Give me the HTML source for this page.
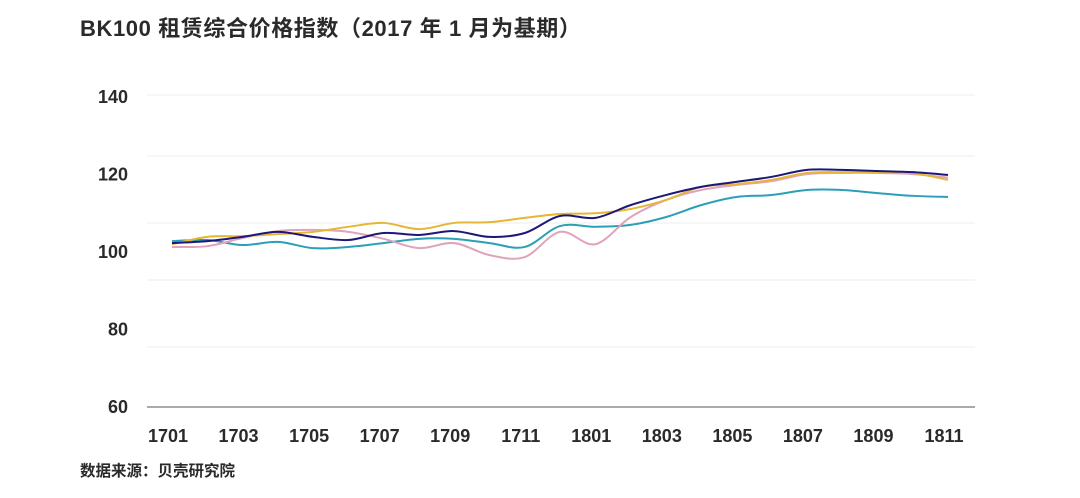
<!DOCTYPE html>
<html><head><meta charset="utf-8"><style>
html,body{margin:0;padding:0;background:#fff;}
svg{display:block;}
text{font-family:"Liberation Sans","Noto Sans CJK SC",sans-serif;font-weight:bold;fill:#2a2a2a;}
</style></head><body>
<svg id="chart" width="1080" height="498" viewBox="0 0 1080 498">
<text x="80" y="36" font-size="22" letter-spacing="0.6">BK100 租赁综合价格指数（2017 年 1 月为基期）</text>
<text x="80" y="476" font-size="15.5">数据来源：贝壳研究院</text>
<g id="grid"></g><g id="axes"></g><g id="series"></g>
</svg>
<script>
const months=["1701","1702","1703","1704","1705","1706","1707","1708","1709","1710","1711","1712","1801","1802","1803","1804","1805","1806","1807","1808","1809","1810","1811"];
const xTickLabels=["1701","1703","1705","1707","1709","1711","1801","1803","1805","1807","1809","1811"];
const yTickLabels=[60,80,100,120,140];
const navyValues=[102.3,102.8,103.9,105.2,103.9,103.1,104.9,104.4,105.4,103.9,104.9,109.3,108.8,112.1,114.7,116.8,118.1,119.4,121.2,121.2,120.9,120.6,119.9];
const yellowValues=[102,103.9,104.1,104.6,105.2,106.5,107.5,105.9,107.5,107.7,108.8,109.8,110,111.1,113.4,116.8,117.5,118.6,120.4,120.6,120.6,120.4,118.6];
const tealValues=[102.8,103.1,101.8,102.6,101,101.3,102.3,103.4,103.4,102.3,101.3,106.7,106.5,107,109,112.1,114.2,114.7,116,116,115.2,114.5,114.2];
const pinkValues=[101.3,101.5,103.6,105.4,105.7,105.2,103.4,101,102.3,99.2,98.7,105.2,102,109,113.4,116,117.3,118.3,120.1,120.4,120.4,120.1,119.2];
const NS="http://www.w3.org/2000/svg";
const x=i=>172+i*(948-172)/(months.length-1);
const y=v=>407-(v-60)*77.5/20;
function mk(tag,attrs,parent){const e=document.createElementNS(NS,tag);for(const k in attrs)e.setAttribute(k,attrs[k]);parent.appendChild(e);return e;}
const grid=document.getElementById('grid'),axes=document.getElementById('axes'),ser=document.getElementById('series');
[95,156,223,280,347].forEach(gy=>{const l=mk('line',{x1:147,x2:975,y1:gy,y2:gy,stroke:'#ececec','stroke-width':1},grid);

});
const ax=mk('line',{x1:147,x2:975,y1:407,y2:407,stroke:'#777','stroke-width':1.3},axes);


yTickLabels.forEach(v=>{const t=mk('text',{x:128,y:y(v)+6,'font-size':18,'text-anchor':'end'},axes);t.textContent=v;

});
xTickLabels.forEach(lab=>{const i=months.indexOf(lab);const t=mk('text',{x:x(i)-4,y:442,'font-size':18,'text-anchor':'middle'},axes);t.textContent=lab;

});
function smooth(vals){const p=vals.map((v,i)=>[x(i),y(v)]);let d=`M${p[0][0]},${p[0][1]}`;
for(let i=0;i<p.length-1;i++){const p0=p[i-1]||p[i],p1=p[i],p2=p[i+1],p3=p[i+2]||p2;
const c1=[p1[0]+(p2[0]-p0[0])/6,p1[1]+(p2[1]-p0[1])/6],c2=[p2[0]-(p3[0]-p1[0])/6,p2[1]-(p3[1]-p1[1])/6];
d+=` C${c1[0]},${c1[1]} ${c2[0]},${c2[1]} ${p2[0]},${p2[1]}`;}return d;}
[[tealValues,'#2c9fb8','teal-series-line'],[pinkValues,'#dfa3bd','pink-series-line'],[yellowValues,'#e6b634','yellow-series-line'],[navyValues,'#1c1878','navy-series-line']].forEach(s=>{
const p=mk('path',{d:smooth(s[0]),fill:'none',stroke:s[1],'stroke-width':2},ser);

});
</script>
</body></html>
